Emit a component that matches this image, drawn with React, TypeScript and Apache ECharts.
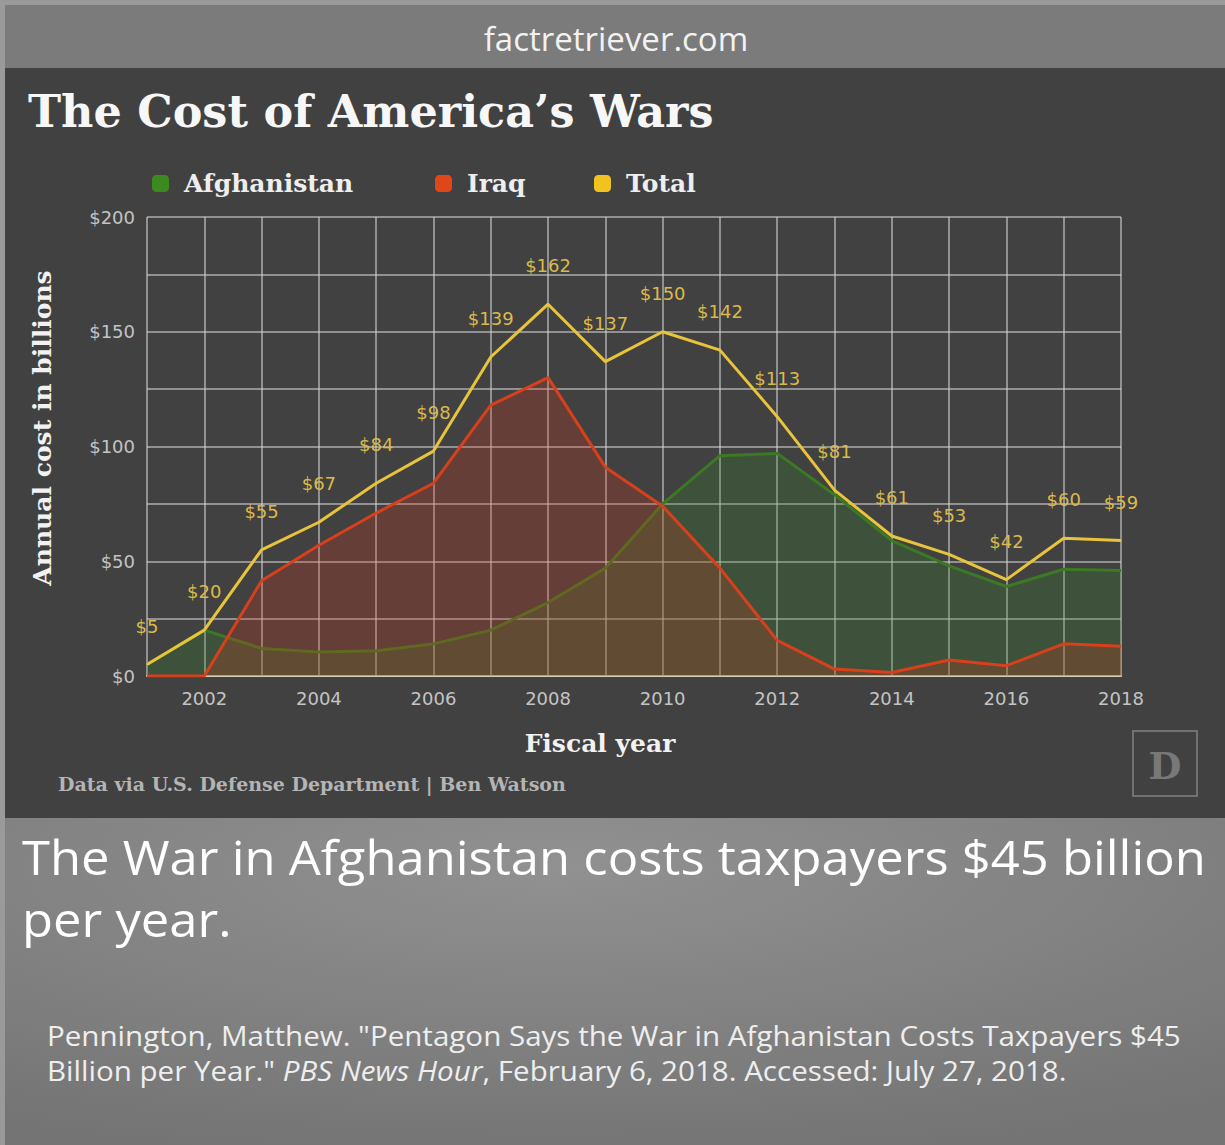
import { useEffect, useRef } from 'react';
import * as echarts from 'echarts';

const years = ['2001', '2002', '2003', '2004', '2005', '2006', '2007', '2008', '2009', '2010', '2011', '2012', '2013', '2014', '2015', '2016', '2017', '2018'];
const afghanistan = [5, 20, 12, 10.5, 11, 14, 20, 32, 47, 75, 96, 97, 79, 59, 48, 39, 46.5, 46];
const iraq = [0, 0, 41.5, 57, 71, 84, 118, 130, 91, 74, 47, 15.5, 3, 1.5, 7, 4.5, 14, 13];
const total = [5, 20, 55, 67, 84, 98, 139, 162, 137, 150, 142, 113, 81, 61, 53, 42, 60, 59];

const SERIF = '"DejaVu Serif", serif';
const SANS = '"DejaVu Sans", sans-serif';
const OPEN = '"Open Sans", sans-serif';

function legendItem(name: string, left: number, color: string) {
  return {
    data: [{ name, itemStyle: { color, borderWidth: 0 } }],
    left,
    top: 166,
    icon: 'roundRect',
    itemWidth: 17,
    itemHeight: 17,
    itemGap: 0,
    itemStyle: { borderWidth: 0 },
    lineStyle: { width: 0 },
    selectedMode: false,
    textStyle: { color: '#eeeeee', fontFamily: SERIF, fontWeight: 'bold', fontSize: 25, padding: [0, 0, 0, 10] },
  };
}

export default function App() {
  const ref = useRef<HTMLDivElement>(null);
  useEffect(() => {
    document.body.style.margin = '0';
    const chart = echarts.init(ref.current!, null, { renderer: 'svg' });
    const option: any = {
      animation: false,
      backgroundColor: '#414141',
      graphic: [
        { type: 'rect', z: -10, shape: { x: 0, y: 0, width: 1225, height: 1145 }, style: { fill: '#9a9a9a' } },
        { type: 'rect', z: -9, shape: { x: 5, y: 5, width: 1220, height: 63 }, style: { fill: '#7b7b7b' } },
        { type: 'rect', z: -9, shape: { x: 5, y: 68, width: 1220, height: 750 }, style: { fill: '#414141' } },
        {
          type: 'rect', z: -9, shape: { x: 5, y: 818, width: 1220, height: 327 },
          style: {
            fill: {
              type: 'radial', x: 0.45, y: 0.15, r: 0.9,
              colorStops: [{ offset: 0, color: '#919191' }, { offset: 1, color: '#747474' }],
            },
          },
        },
        { type: 'text', z: 10, x: 616, y: 38, style: { text: 'factretriever.com', fill: '#f2f2f2', font: `33px ${OPEN}`, textAlign: 'center', textVerticalAlign: 'middle' } },
        { type: 'text', z: 10, x: 28, y: 111, style: { text: 'The Cost of America’s Wars', fill: '#f7f7f7', font: `bold 44.5px ${SERIF}`, textAlign: 'left', textVerticalAlign: 'middle' } },
        { type: 'text', z: 10, x: 42, y: 428, rotation: Math.PI / 2, style: { text: 'Annual cost in billions', fill: '#f2f2f2', font: `bold 25px ${SERIF}`, textAlign: 'center', textVerticalAlign: 'middle' } },
        { type: 'text', z: 10, x: 600, y: 743, style: { text: 'Fiscal year', fill: '#f2f2f2', font: `bold 25px ${SERIF}`, textAlign: 'center', textVerticalAlign: 'middle' } },
        { type: 'text', z: 10, x: 58, y: 784, style: { text: 'Data via U.S. Defense Department | Ben Watson', fill: '#b4b4b4', font: `bold 19px ${SERIF}`, textAlign: 'left', textVerticalAlign: 'middle' } },
        { type: 'rect', z: 10, shape: { x: 1133, y: 731, width: 64, height: 65 }, style: { fill: 'none', stroke: '#727272', lineWidth: 2 } },
        { type: 'text', z: 10, x: 1165, y: 765, style: { text: 'D', fill: '#787878', font: `bold 38px ${SERIF}`, textAlign: 'center', textVerticalAlign: 'middle' } },
        { type: 'text', z: 10, x: 22, y: 856, scaleX: 1.057, style: { text: 'The War in Afghanistan costs taxpayers $45 billion', fill: '#ffffff', font: `48px ${OPEN}`, lineHeight: 50, textAlign: 'left', textVerticalAlign: 'middle' } },
        { type: 'text', z: 10, x: 22, y: 918, scaleX: 1.057, style: { text: 'per year.', fill: '#ffffff', font: `48px ${OPEN}`, lineHeight: 50, textAlign: 'left', textVerticalAlign: 'middle' } },
        { type: 'text', z: 10, x: 47, y: 1036, scaleX: 1.095, style: { text: 'Pennington, Matthew. "Pentagon Says the War in Afghanistan Costs Taxpayers $45', fill: '#eeeeee', font: `27px ${OPEN}`, lineHeight: 28, textAlign: 'left', textVerticalAlign: 'middle' } },
        {
          type: 'text', z: 10, x: 47, y: 1071, scaleX: 1.095,
          style: {
            text: '{a|Billion per Year." }{i|PBS News Hour}{a|, February 6, 2018. Accessed: July 27, 2018.}',
            fill: '#eeeeee', textAlign: 'left', textVerticalAlign: 'middle', font: `27px ${OPEN}`, lineHeight: 28,
            rich: {
              a: { fill: '#eeeeee', fontFamily: OPEN, fontSize: 27, lineHeight: 28 },
              i: { fill: '#eeeeee', fontFamily: OPEN, fontSize: 27, lineHeight: 28, fontStyle: 'italic' },
            },
          },
        },
      ],
      legend: [
        legendItem('Afghanistan', 147, '#3a8a20'),
        legendItem('Iraq', 430, '#e0461a'),
        legendItem('Total', 589, '#f2c21e'),
      ],
      grid: { left: 147, right: 104, top: 217, bottom: 469, containLabel: false },
      xAxis: {
        type: 'category',
        data: years,
        boundaryGap: false,
        axisLine: { show: true, lineStyle: { color: '#d9cbb3', width: 2 } },
        axisTick: { show: false },
        axisLabel: {
          interval: (i: number) => i % 2 === 1,
          color: '#c4c4c4', fontFamily: SANS, fontSize: 18, margin: 13,
        },
        splitLine: { show: true, interval: 0, lineStyle: { color: 'rgba(210,210,210,0.75)', width: 1.5 } },
      },
      yAxis: {
        type: 'value',
        min: 0,
        max: 200,
        interval: 25,
        axisLine: { show: false },
        axisTick: { show: false },
        axisLabel: {
          formatter: (v: number) => (v % 50 === 0 ? '$' + v : ''),
          color: '#c4c4c4', fontFamily: SANS, fontSize: 18, margin: 12,
        },
        splitLine: { show: true, lineStyle: { color: 'rgba(210,210,210,0.75)', width: 1.5 } },
      },
      series: [
        {
          name: 'Afghanistan', type: 'line', data: afghanistan,
          symbol: 'none',
          lineStyle: { color: '#3b7a22', width: 3 },
          itemStyle: { color: '#3a8a20' },
          areaStyle: { color: 'rgba(50,140,40,0.33)' },
          z: 2,
        },
        {
          name: 'Iraq', type: 'line', data: iraq,
          symbol: 'none',
          lineStyle: { color: '#d8401c', width: 3 },
          itemStyle: { color: '#e0461a' },
          areaStyle: { color: 'rgba(215,50,20,0.33)' },
          z: 3,
        },
        {
          name: 'Total', type: 'line', data: total,
          symbol: 'circle', symbolSize: 1, showSymbol: true,
          lineStyle: { color: '#e8c43c', width: 3 },
          itemStyle: { color: '#e8c43c' },
          label: {
            show: true, position: 'top', distance: 29,
            formatter: (p: any) => '$' + p.value,
            color: '#dbba4a', fontFamily: SANS, fontSize: 18,
          },
          z: 4,
        },
      ],
    };
    chart.setOption(option);
    return () => chart.dispose();
  }, []);
  return <div ref={ref} style={{ width: 1225, height: 1145 }} />;
}
